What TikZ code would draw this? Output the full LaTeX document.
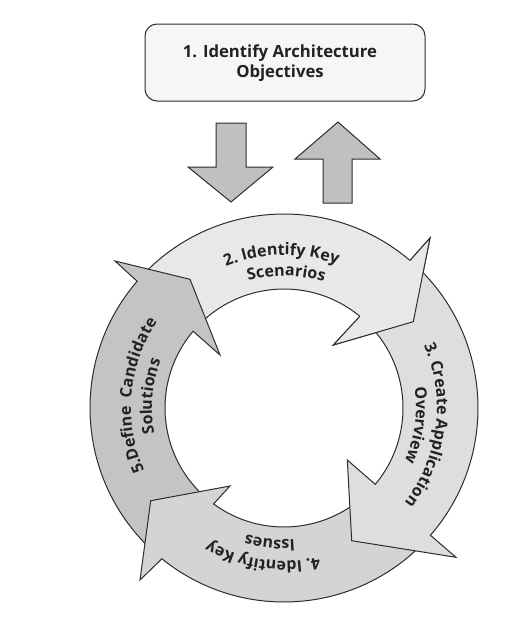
\documentclass[tikz,border=0pt]{standalone}
\usepackage{fontspec}
\setmainfont{Open Sans}
\usetikzlibrary{decorations.text}
\definecolor{lineC}{RGB}{45,45,45}
\definecolor{textC}{RGB}{34,34,34}
\definecolor{cTwo}{RGB}{232,232,232}
\definecolor{cThree}{RGB}{222,222,222}
\definecolor{cFour}{RGB}{212,212,212}
\definecolor{cFive}{RGB}{196,196,196}
\definecolor{cUpDown}{RGB}{192,192,192}
\definecolor{cBox}{RGB}{246,246,246}
\newcommand\ringfont{\fontsize{16}{18}\selectfont\bfseries\color{textC}}
\tikzset{
  box/.style={draw=lineC, line width=1pt, fill=cBox, rounded corners=12pt,
    minimum width=280pt, minimum height=77pt, inner sep=0pt},
  boxtext/.style={align=center, font=\fontsize{16.7}{20}\selectfont\bfseries, text=textC, inner sep=0pt},
  bigarrow/.style={draw=lineC, line width=1pt, fill=cUpDown, line join=miter},
  seg/.style={draw=lineC, line width=1pt, line join=miter},
  segline/.style={draw=lineC, line width=1pt, line join=miter},
  ringtext/.style={decorate, decoration={text along path, text align=center, text={#1}}}
}
\begin{document}
\begin{tikzpicture}[x=1pt,y=1pt]
\useasboundingbox (0,0) rectangle (532,-619);
\fill[white] (0,0) rectangle (532,-619);
\node[box] (obj) at (285,-62.5) {};
\node[boxtext] (objtxt) at (280,-63) {1. Identify Architecture\\Objectives};
\draw[bigarrow] (216,-123) -- (246,-123) -- (246,-167) -- (273,-167) -- (231,-202) -- (188,-167) -- (216,-167) -- cycle;
\draw[bigarrow] (323,-203) -- (352,-203) -- (352,-159) -- (380,-159) -- (338,-122) -- (295,-159) -- (323,-159) -- cycle;
\begin{scope}[shift={(284,-408)}]
% arrow 2
\draw[seg, fill=cTwo] (137.5:194) arc[start angle=137.5, end angle=49.5, radius=194] -- (146,170) -- (129.3,86.3) -- (49.3,63) -- (50.4:119) arc[start angle=50.4, end angle=137.5, radius=119] -- cycle;
% arrow 5
\draw[seg, fill=cFive] (228:194) arc[start angle=228, end angle=139.2, radius=194] -- (-169,147) -- (-94,128.7) -- (-64,53) -- (139.8:119) arc[start angle=139.8, end angle=228, radius=119] -- cycle;
% arrow 4
\draw[seg, fill=cFour] (316:194) arc[start angle=316, end angle=231, radius=194] -- (-144,-172) -- (-133.3,-92.7) -- (-54,-78) -- (233.7:119) arc[start angle=233.7, end angle=316, radius=119] -- cycle;
% arrow 3
\draw[seg, fill=cThree] (47:194) arc[start angle=47, end angle=-41, radius=194] -- (172,-149.3) -- (67.7,-132.7) -- (63.3,-52) -- (-39.9:119) arc[start angle=-39.9, end angle=47, radius=119] -- cycle;
% head of arrow 2 again, over the tail of arrow 3
\fill[cTwo] (146,170) -- (129.3,86.3) -- (49.3,63) -- cycle;
\draw[segline] (49.5:194) -- (146,170) -- (129.3,86.3) -- (49.3,63) -- (50.4:119);
% texts
\path[ringtext={|\ringfont|2. Identify Key}] (136:153) arc[start angle=136, end angle=46, radius=153];
\path[ringtext={|\ringfont|Scenarios}] (134:132) arc[start angle=134, end angle=44, radius=132];
\path[ringtext={|\ringfont|3. Create Application}] (38:153) arc[start angle=38, end angle=-52, radius=153];
\path[ringtext={|\ringfont|Overview}] (37.5:132) arc[start angle=37.5, end angle=-52.5, radius=132];
\path[ringtext={|\ringfont|4. Identify Key}] (307:153) arc[start angle=307, end angle=217, radius=153];
\path[ringtext={|\ringfont|Issues}] (309:132) arc[start angle=309, end angle=219, radius=132];
\path[ringtext={|\ringfont|5.Define {\ }Candidate}] (220:153) arc[start angle=220, end angle=130, radius=153];
\path[ringtext={|\ringfont|Solutions}] (220:132) arc[start angle=220, end angle=130, radius=132];
\end{scope}
\end{tikzpicture}
\end{document}
